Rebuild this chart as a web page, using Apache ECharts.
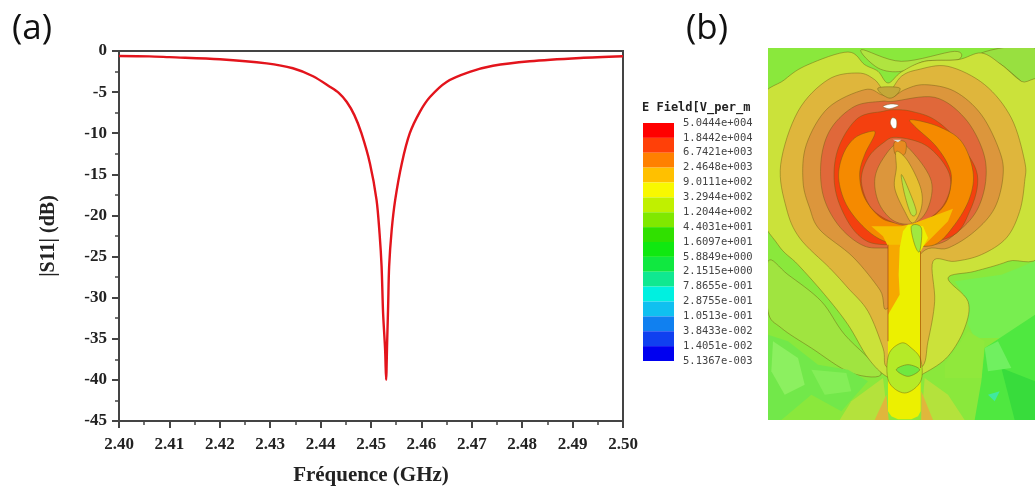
<!DOCTYPE html>
<html><head><meta charset="utf-8">
<style>html,body{margin:0;padding:0;background:#fff}#c{width:1035px;height:488px}</style>
<script src="https://cdn.jsdelivr.net/npm/echarts@6/dist/echarts.min.js"></script></head>
<body><div id="c"></div>
<script>
const s11Freq=[2.40,2.406,2.41,2.42,2.4293,2.4345,2.4385,2.4419,2.4436,2.4452,2.4467,2.4481,2.4498,2.4511,2.4517,2.4521,2.4524,2.4528,2.453,2.4532,2.4534,2.4536,2.4541,2.4548,2.4561,2.4577,2.4597,2.4617,2.465,2.4696,2.4742,2.4815,2.4915,2.50];
const s11Db=[-0.6,-0.65,-0.75,-1.0,-1.5,-2.1,-3.07,-4.37,-5.1,-6.2,-7.8,-10,-13.7,-18.1,-22.2,-26.2,-31.9,-36.3,-40,-35.5,-31,-26.2,-21.8,-18.1,-13.7,-10,-7.4,-5.6,-3.76,-2.55,-1.8,-1.25,-0.85,-0.64];
const legendLabels=['5.0444e+004','1.8442e+004','6.7421e+003','2.4648e+003','9.0111e+002','3.2944e+002','1.2044e+002','4.4031e+001','1.6097e+001','5.8849e+000','2.1515e+000','7.8655e-001','2.8755e-001','1.0513e-001','3.8433e-002','1.4051e-002','5.1367e-003'];
const legendColors=['#ff0000','#ff4008','#ff8000','#ffc000','#f8f800','#c0f000','#80e800','#30e000','#10e810','#10e840','#10e890','#00f0e0','#10c0f0','#1080f0','#1040f0','#0000f0'];
const legendCells=legendColors.map((c,i)=>i);

const faceTop=[[280,5],[400,40],[560,10],[570,35],[470,40],[400,70],[330,60]];
const faceCorner=[[640,15],[801,0],[801,135],[760,100],[700,50]];
const faceLeaf=[[0,640],[60,680],[160,760],[230,860],[340,975],[250,975],[130,900],[40,840],[0,790]];
const faceLowLeft=[[0,860],[60,880],[150,950],[240,965],[300,1000],[220,1090],[130,1040],[40,1116],[0,1116]];
const faceLeftPatchA=[[15,880],[90,930],[110,1010],[50,1040],[10,970]];
const faceLeftPatchB=[[130,965],[235,975],[250,1030],[170,1040]];
const faceUpRight=[[560,700],[700,680],[801,640],[801,800],[720,870],[620,870],[600,830],[600,760]];
const faceLowRight=[[650,900],[801,800],[801,1116],[620,1116],[640,1000]];
const faceLowDark=[[700,960],[801,1000],[801,1116],[740,1116]];
const faceMid=[[530,950],[600,850],[650,880],[640,990],[530,990]];
const facePatch=[[650,900],[690,880],[730,960],[660,970]];
const faceTeal=[[660,1040],[695,1030],[680,1060]];
const bandYellow=[[360,105],[400,72],[470,40],[570,35],[640,15],[700,50],[760,100],[830,135],[830,590],[720,640],[620,670],[540,690],[600,760],[590,840],[540,925],[470,975],[410,1000],[355,985],[300,930],[240,830],[170,740],[90,650],[30,590],[-30,470],[-30,175],[50,95],[120,50],[240,12],[290,50],[330,70]];
const footLeft=[[345,990],[250,1060],[215,1116],[360,1116]];
const footRight=[[470,990],[540,1040],[590,1116],[460,1116]];
const footOchreL=[[355,1040],[320,1116],[362,1116]];
const footOchreR=[[460,1030],[495,1116],[460,1116]];
const bandOchre=[[358,135],[400,85],[450,65],[540,55],[650,110],[730,210],[770,340],[770,400],[755,490],[715,570],[640,620],[560,640],[495,640],[500,760],[480,880],[458,960],[360,960],[345,900],[300,790],[240,720],[185,660],[95,570],[55,480],[38,350],[90,190],[180,95],[270,75],[320,95]];
const dip=[[330,120],[395,120],[375,150],[355,150]];
const bandBrown=[[370,150],[410,125],[470,110],[560,130],[640,200],[695,310],[705,385],[680,480],[620,550],[540,600],[460,615],[360,780],[336,726],[255,627],[156,546],[125,480],[105,400],[115,290],[180,180],[290,125],[340,140]];
const bandRedOrange=[[375,160],[500,148],[590,210],[645,310],[653,400],[625,490],[565,555],[500,590],[350,600],[280,590],[210,530],[165,440],[160,330],[190,240],[260,175],[340,160]];
const bandRed=[[380,185],[430,190],[500,215],[570,280],[628,380],[605,490],[540,570],[350,590],[270,560],[215,470],[198,380],[215,290],[270,210],[345,190]];
const bandOrange=[[310,250],[260,270],[225,320],[212,390],[235,470],[290,540],[350,580],[420,590],[500,590],[560,530],[605,450],[615,370],[580,280],[510,235],[430,215],[440,235],[500,290],[540,350],[550,400],[530,470],[470,520],[400,525],[340,510],[290,450],[275,380],[290,320],[320,260]];
const ringOuter=[[385,268],[470,290],[530,350],[548,410],[520,480],[450,528],[380,525],[310,480],[280,400],[300,330],[345,285]];
const ringCore=[[390,285],[440,320],[490,400],[480,480],[440,525],[380,520],[335,470],[320,400],[340,340]];
const ringTip=[[380,282],[412,282],[412,315],[395,325],[380,315]];
const lens=[[385,310],[420,340],[458,420],[460,480],[435,525],[410,490],[380,420],[385,360]];
const lensStreak=[[400,380],[420,420],[445,490],[430,500],[410,440]];
const wingYellow=[[310,535],[400,535],[440,525],[555,482],[540,520],[490,570],[470,590],[360,595],[345,565]];
const feedOrange=[[360,590],[458,590],[458,880],[360,880]];
const feedYellow=[[420,530],[465,535],[480,570],[458,610],[458,1090],[450,1105],[430,1114],[390,1114],[370,1105],[360,1090],[360,800],[395,740],[392,680],[395,600],[405,550]];
const feedGreenTop=[[430,535],[460,540],[455,610],[440,590]];
const feedGreenLow=[[400,885],[430,900],[458,935],[458,1000],[410,1035],[362,1000],[362,920]];
const feedGreenCore=[[420,950],[455,965],[420,985],[385,965]];
const feedEdgeL=[[359,590],[361,590],[361,880],[359,880]];
const feedEdgeR=[[457,610],[459,610],[459,960],[457,960]];
const gapA=[[345,175],[370,168],[392,172],[365,182]];
const gapB=[[372,210],[385,215],[385,238],[375,240],[367,225]];
const gapC=[[375,275],[400,275],[390,283]];

const fieldLayers=[
 ['#b0e440',faceTop,1],['#98e040',faceCorner,1],['#a0e440',faceLeaf,1],['#72e84a',faceLowLeft,0],['#8cf060',faceLeftPatchA,0],['#84ee58',faceLeftPatchB,0],
 ['#78ee50',faceUpRight,0],['#4fe840',faceLowRight,0],['#38dc3c',faceLowDark,0],['#90e83c',faceMid,0],['#70f060',facePatch,0],['#40e8a0',faceTeal,0],
 ['#cbe23a',bandYellow,1],['#b4e23c',footLeft,0],['#b4e23c',footRight,0],['#e0b63c',footOchreL,0],['#e0b63c',footOchreR,0],
 ['#dfb63c',bandOchre,1],['#c4a838',dip,1],['#dc963c',bandBrown,1],
 ['#e0683a',bandRedOrange,1],['#f4400f',bandRed,1],['#f58a00',bandOrange,1],
 ['#e0683a',ringOuter,1],['#dc963c',ringCore,1],['#e88a20',ringTip,1],['#e6c030',lens,1],['#b8e040',lensStreak,1],
 ['#f5c000',wingYellow,0],['#f6a800',feedOrange,0],['#ecf000',feedYellow,0],['#a0e840',feedGreenTop,1],['#b5ea28',feedGreenLow,1],
 ['#70e840',feedGreenCore,1],['#a04010',feedEdgeL,0],['#a04010',feedEdgeR,0],['#ffffff',gapA,1],['#ffffff',gapB,1],['#e0e0e0',gapC,0]
];
const layerIds=fieldLayers.map((l,i)=>i);

function rounded(pts){
 const out=[],n=pts.length;
 for(let i=0;i<n;i++){
  const a=pts[(i+n-1)%n],b=pts[i],c=pts[(i+1)%n],d=pts[(i+2)%n];
  for(let k=0;k<8;k++){const t=k/8,t2=t*t,t3=t2*t;
   out.push([0,1].map(j=>0.5*(2*b[j]+(c[j]-a[j])*t+(2*a[j]-5*b[j]+4*c[j]-d[j])*t2+(3*b[j]-a[j]-3*c[j]+d[j])*t3)));}
 }
 return out;
}

const chart=echarts.init(document.getElementById('c'),null,{renderer:'canvas'});
const serif='"Liberation Serif"';
const axisCol='#444';
chart.setOption({
 animation:false,
 title:[
  {text:'(a)',left:7,top:7,textStyle:{fontFamily:'"Open Sans"',fontSize:35,fontWeight:'normal',color:'#111'}},
  {text:'(b)',left:681,top:7,textStyle:{fontFamily:'"Open Sans"',fontSize:35,fontWeight:'normal',color:'#111'}},
  {text:'E Field[V_per_m',left:637,top:97,textStyle:{fontFamily:'"DejaVu Sans Mono"',fontSize:12,fontWeight:'bold',color:'#222'}}
 ],
 grid:[
  {left:119,top:51,width:504,height:370,show:true,borderColor:axisCol,borderWidth:2,backgroundColor:'#fff',outerBoundsMode:'none'},
  {left:643,top:123,width:31,height:238,outerBoundsMode:'none'},
  {left:768,top:48,width:267,height:372,show:true,backgroundColor:'#8ae83c',borderWidth:0,outerBoundsMode:'none'}
 ],
 xAxis:[
  {gridIndex:0,type:'value',min:2.4,max:2.5,interval:0.01,name:'Fréquence (GHz)',nameLocation:'middle',nameGap:44,
   nameTextStyle:{fontFamily:serif,fontWeight:'bold',fontSize:21,color:'#222'},
   axisLine:{onZero:false,lineStyle:{color:axisCol,width:2}},axisTick:{length:7,lineStyle:{color:axisCol,width:2}},
   minorTick:{show:true,splitNumber:2,length:4,lineStyle:{color:axisCol,width:1.5}},splitLine:{show:false},
   axisLabel:{margin:15,fontFamily:serif,fontWeight:'bold',fontSize:17,color:'#222',formatter:v=>v.toFixed(2)}},
  {gridIndex:1,type:'value',min:0,max:1,show:false},
  {gridIndex:2,type:'value',min:0,max:801,show:false}
 ],
 yAxis:[
  {gridIndex:0,type:'value',min:-45,max:0,interval:5,name:'|S11| (dB)',nameLocation:'middle',nameGap:60,nameRotate:90,
   nameTextStyle:{fontFamily:serif,fontWeight:'bold',fontSize:20,color:'#222'},
   axisLine:{onZero:false,lineStyle:{color:axisCol,width:2}},axisTick:{length:7,lineStyle:{color:axisCol,width:2}},
   minorTick:{show:true,splitNumber:2,length:4,lineStyle:{color:axisCol,width:1.5}},splitLine:{show:false},
   axisLabel:{margin:12,fontFamily:serif,fontWeight:'bold',fontSize:17,color:'#222'}},
  {gridIndex:1,type:'value',min:0,max:16,interval:1,inverse:true,position:'right',
   axisLine:{show:false},axisTick:{show:false},splitLine:{show:false},
   axisLabel:{margin:9,padding:[4,0,0,0],fontFamily:'"DejaVu Sans Mono"',fontSize:10.5,color:'#444',formatter:(v)=>legendLabels[Math.round(v)]}},
  {gridIndex:2,type:'value',min:0,max:1116,inverse:true,show:false}
 ],
 series:[
  {type:'line',xAxisIndex:0,yAxisIndex:0,data:s11Freq.map((f,i)=>[f,s11Db[i]]),showSymbol:false,smooth:0.3,
   lineStyle:{color:'#e3141c',width:2.4},z:5},
  {type:'custom',xAxisIndex:1,yAxisIndex:1,coordinateSystem:'cartesian2d',data:legendCells,
   renderItem:(p,api)=>{const i=api.value(0);const a=api.coord([0,i]),b=api.coord([1,i+1]);
    return {type:'rect',shape:{x:a[0],y:a[1],width:b[0]-a[0],height:b[1]-a[1]},style:{fill:legendColors[i]}};}},
  {type:'custom',xAxisIndex:2,yAxisIndex:2,coordinateSystem:'cartesian2d',data:layerIds,clip:true,
   renderItem:(p,api)=>{const l=fieldLayers[api.value(0)];const pts=l[2]?rounded(l[1]):l[1];
    return {type:'polygon',shape:{points:pts.map(q=>api.coord(q))},
     style:{fill:l[0],stroke:l[2]?'rgba(110,90,20,0.45)':'rgba(110,90,20,0)',lineWidth:1}};}}
 ]
});
</script></body></html>
